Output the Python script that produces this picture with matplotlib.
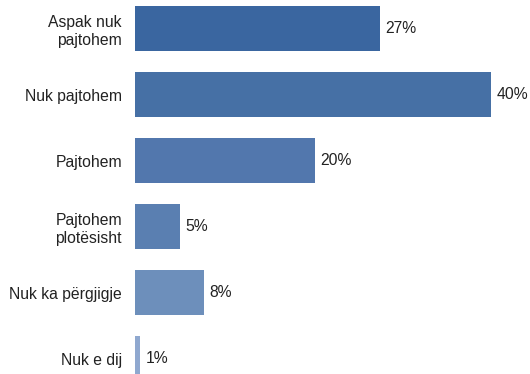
import matplotlib
matplotlib.use("Agg")
import matplotlib.pyplot as plt

# Datos
categorias = ["Aspak nuk\npajtohem", "Nuk pajtohem", "Pajtohem",
              "Pajtohem\nplotësisht", "Nuk ka përgjigje", "Nuk e dij"]
valores = [27.2, 39.6, 20.0, 5.0, 7.7, 0.6]
etiquetas = ["27%", "40%", "20%", "5%", "8%", "1%"]
colores = ["#3a66a0", "#4670a5", "#5277ad", "#5a7fb1", "#6d8fbb", "#8fa8cf"]

plt.rcParams["font.family"] = ["Liberation Sans", "DejaVu Sans"]

fig = plt.figure(figsize=(5.3, 3.74), dpi=100)
ax = fig.add_axes([135 / 530, 0, 1 - 135 / 530, 1])

pos = list(range(len(categorias)))
ax.barh(pos, valores, height=45 / 66, color=colores)

for y, v, t in zip(pos, valores, etiquetas):
    ax.text(v + 0.55, y, t, va="center", ha="left", fontsize=11.3, color="#222222")

ax.set_yticks(pos)
ax.set_yticklabels(categorias, fontsize=11.3, color="#222222", linespacing=1.25)
ax.tick_params(axis="y", length=0, pad=9.4)
ax.set_xticks([])
ax.set_xlim(0, (530 - 135) / 9)
ax.set_ylim((374 - 28.5) / 66, -28.5 / 66)
for s in ax.spines.values():
    s.set_visible(False)

fig.savefig("out.png", dpi=100)
